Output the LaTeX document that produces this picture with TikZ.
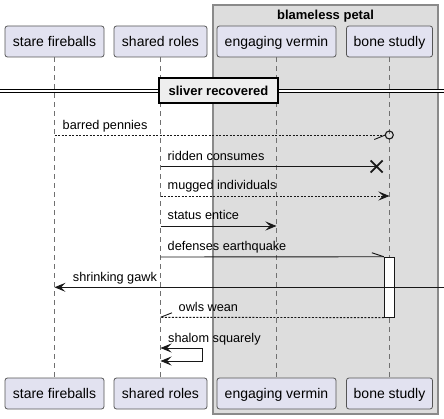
\documentclass[tikz,border=0pt]{standalone}
\usepackage{fontspec}
\setmainfont{Liberation Sans}
\usetikzlibrary{arrows.meta,calc}
\definecolor{partfill}{HTML}{E2E2F0}
\definecolor{grpfill}{HTML}{DDDDDD}
\definecolor{sepfill}{HTML}{EEEEEE}
\definecolor{ink}{HTML}{181818}
\definecolor{lifegray}{HTML}{707070}
\definecolor{boxedge}{HTML}{555555}
\definecolor{grpedge}{HTML}{8A8A8A}
\begin{document}
\begin{tikzpicture}[x=1pt,y=-1pt,
  part/.style={draw=boxedge, fill=partfill, rounded corners=2.5pt, line width=0.8pt,
    minimum height=31pt, inner sep=0pt, text height=10pt, text depth=0pt,
    font=\fontsize{14pt}{16pt}\selectfont},
  lifeline/.style={draw=lifegray, line width=0.8pt, dash pattern=on 5pt off 4pt},
  msg/.style={draw=ink, line width=0.9pt},
  dotmsg/.style={draw=ink, line width=0.9pt, dash pattern=on 2pt off 1.5pt},
  tip/.style={-{Stealth[length=11pt,width=9pt,inset=4.5pt]}},
  lbl/.style={anchor=base west, inner sep=0pt, font=\fontsize{12.7pt}{15pt}\selectfont},
  ttl/.style={inner sep=0pt, font=\fontsize{13pt}{15pt}\selectfont\bfseries},
]
\useasboundingbox[fill=white] (0,0) rectangle (444,419);
% group box
\node[draw=grpedge, fill=grpfill, line width=1.2pt, minimum width=225pt, minimum height=409pt, inner sep=0pt] (grp) at (325.5,209.5) {};
\node[ttl, anchor=base] (grpt) at (325.5,19.5) {blameless petal};
% participants top
\node[part, minimum width=99pt] (sfT) at (54.5,41.5) {stare fireballs};
\node[part, minimum width=93pt] (srT) at (160.5,41.5) {shared roles};
\node[part, minimum width=119pt] (evT) at (276.5,41.5) {engaging vermin};
\node[part, minimum width=86pt] (bsT) at (389.5,41.5) {bone studly};
% participants bottom
\node[part, minimum width=99pt] (sfB) at (54.5,393.5) {stare fireballs};
\node[part, minimum width=93pt] (srB) at (160.5,393.5) {shared roles};
\node[part, minimum width=119pt] (evB) at (276.5,393.5) {engaging vermin};
\node[part, minimum width=86pt] (bsB) at (389.5,393.5) {bone studly};
% lifelines
\draw[lifeline] (sfT.south) -- (sfB.north);
\draw[lifeline] (srT.south) -- (srB.north);
\draw[lifeline] (evT.south) -- (evB.north);
\draw[lifeline] (bsT.south) -- (bsB.north);
% separator
\coordinate (sepL) at (0,91);
\coordinate (sepR) at (444,91);
\draw[draw=black, line width=0.9pt, double=white, double distance=2.5pt] (sepL) -- (sepR);
\node[draw=black, fill=sepfill, line width=1.5pt, minimum width=119pt, minimum height=25pt, inner sep=0pt,
  font=\fontsize{13pt}{15pt}\selectfont\bfseries] (sep) at (218.5,90.5) {sliver recovered};
% message rows
\coordinate (m1) at (0,135);
\coordinate (m2) at (0,166.5);
\coordinate (m3) at (0,196);
\coordinate (m4) at (0,226);
\coordinate (m5) at (0,257);
\coordinate (m6) at (0,287.3);
\coordinate (m7) at (0,317.3);
\coordinate (m8) at (0,348);
\coordinate (m8b) at (0,361);
\coordinate (edge) at (444,287.3);
% activation
\node[draw=ink, fill=white, line width=0.9pt, minimum width=10pt, minimum height=60pt, inner sep=0pt] (act) at (389.3,287.2) {};
% 1 barred pennies
\coordinate (circ) at ($(bsT |- m1)+(-0.2,0)$);
\draw[dotmsg] (sfT |- m1) -- ($(circ)+(-4,0)$) coordinate (c1);
\draw[msg] (c1) -- ++(-11,4.5);
\draw[draw=ink, line width=1.1pt] (circ) circle[radius=4pt];
\node[lbl] (t1) at (62.5,129.5) {barred pennies};
% 2 ridden consumes
\coordinate (xc) at ($(bsT |- m2)+(-12.8,0)$);
\draw[msg] (srT |- m2) -- (xc);
\draw[draw=ink, line width=1.8pt] ($(xc)+(-6,-6)$) -- ($(xc)+(6,6)$) ($(xc)+(-6,6)$) -- ($(xc)+(6,-6)$);
\node[lbl] (t2) at (167.5,160.5) {ridden consumes};
% 3 mugged individuals
\draw[dotmsg, tip] (srT |- m3) -- (bsT |- m3);
\node[lbl] (t3) at (167.5,190) {mugged individuals};
% 4 status entice
\draw[msg, tip] (srT |- m4) -- (evT |- m4);
\node[lbl] (t4) at (167.5,220) {status entice};
% 5 defenses earthquake
\draw[msg] (srT |- m5) -- (act.north west);
\draw[msg] (act.north west) -- ++(-12,-4);
\node[lbl] (t5) at (167.5,251) {defenses earthquake};
% 6 shrinking gawk
\draw[msg, tip] (edge) -- (sfT |- m6);
\node[lbl] (t6) at (72.7,281.3) {shrinking gawk};
% 7 owls wean
\draw[dotmsg] (act.south west) -- (srT |- m7);
\draw[msg] (srT |- m7) -- ++(11.5,-4.5);
\node[lbl] (t7) at (178.5,311.8) {owls wean};
% 8 shalom squarely
\draw[msg, {Stealth[length=11pt,width=9pt,inset=4.5pt]}-{Stealth[length=11pt,width=9pt,inset=4.5pt]}]
  (srT |- m8) -- ++(42,0) -- ++(0,13) -- (srT |- m8b);
\node[lbl] (t8) at (168,342) {shalom squarely};
\end{tikzpicture}
\end{document}
